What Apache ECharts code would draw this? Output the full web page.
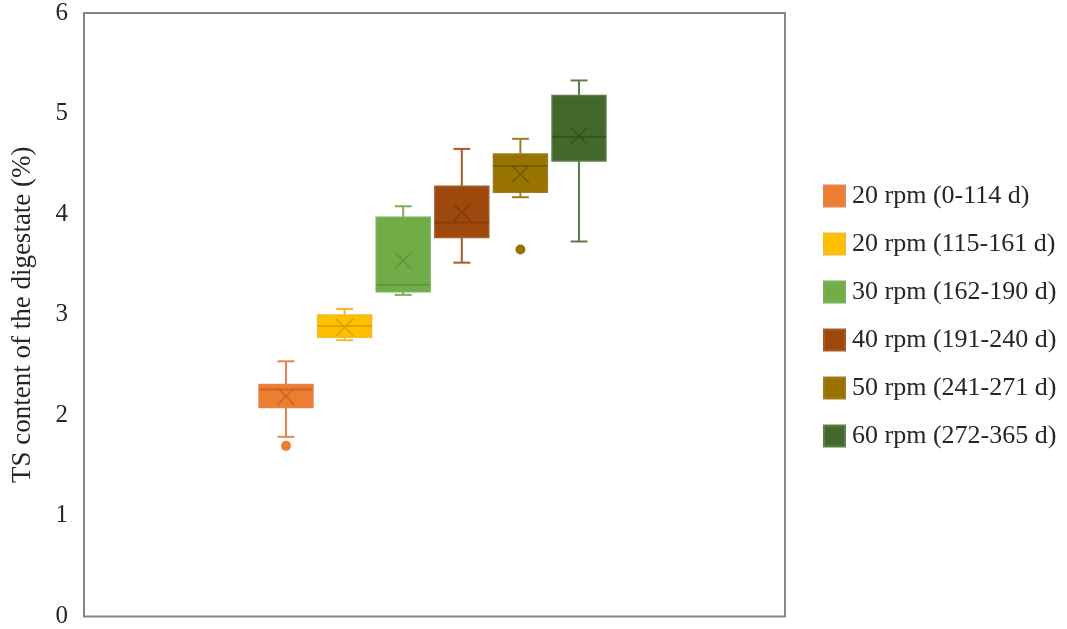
<!DOCTYPE html>
<html>
<head>
<meta charset="utf-8">
<script src="https://cdn.jsdelivr.net/npm/echarts@6/dist/echarts.min.js"></script>
<style>
html,body{margin:0;padding:0;background:#fff;}
#chart{width:1067px;height:629px;}
</style>
</head>
<body>
<div id="chart"></div>
<script>
// ---- data ----
const categories = ['20 rpm (0-114 d)', '20 rpm (115-161 d)', '30 rpm (162-190 d)', '40 rpm (191-240 d)', '50 rpm (241-271 d)', '60 rpm (272-365 d)'];
const whiskerLow  = [1.79, 2.75, 3.20, 3.52, 4.17, 3.73];
const q1Values    = [2.08, 2.78, 3.23, 3.77, 4.22, 4.53];
const medianVals  = [2.26, 2.89, 3.30, 3.92, 4.48, 4.77];
const q3Values    = [2.31, 3.00, 3.97, 4.28, 4.60, 5.18];
const whiskerHigh = [2.54, 3.06, 4.08, 4.65, 4.75, 5.33];
const meanValues  = [2.19, 2.88, 3.54, 4.02, 4.40, 4.78];
const outlierPoints = [[0, 1.70], [4, 3.65]];
const yTicks = [0, 1, 2, 3, 4, 5, 6];

const fillColors   = ['#ED7D31', '#FFC000', '#70AD47', '#9E480E', '#997300', '#43682B'];
const lineColors   = ['#E7834A', '#F2BB2A', '#7CAF5C', '#A65A2A', '#9E7C1E', '#5E7D4A'];
const darkColors   = ['#C9662A', '#DDA300', '#5E9A3B', '#843C0C', '#7A5C00', '#34521F'];

const chart = echarts.init(document.getElementById('chart'));

const FONT = '"Liberation Serif", "Times New Roman", serif';

function makeRender(idx) {
  return function (params, api) {
    const x = api.value(0);
    const band = api.size([1, 0])[0];
    const bw = band * 0.92;
    const capW = 17;
    const pLow = api.coord([x, api.value(1)]);
    const pQ1 = api.coord([x, api.value(2)]);
    const pMed = api.coord([x, api.value(3)]);
    const pQ3 = api.coord([x, api.value(4)]);
    const pHigh = api.coord([x, api.value(5)]);
    const pMean = api.coord([x, api.value(6)]);
    const cx = pLow[0];
    const wl = lineColors[idx];
    const dk = darkColors[idx];
    const lw = 2;
    const xs = 8.5;
    const children = [
      {type: 'line', shape: {x1: cx, y1: pHigh[1], x2: cx, y2: pQ3[1]}, style: {stroke: wl, lineWidth: lw}},
      {type: 'line', shape: {x1: cx, y1: pQ1[1], x2: cx, y2: pLow[1]}, style: {stroke: wl, lineWidth: lw}},
      {type: 'line', shape: {x1: cx - capW / 2, y1: pHigh[1], x2: cx + capW / 2, y2: pHigh[1]}, style: {stroke: wl, lineWidth: lw}},
      {type: 'line', shape: {x1: cx - capW / 2, y1: pLow[1], x2: cx + capW / 2, y2: pLow[1]}, style: {stroke: wl, lineWidth: lw}},
      {type: 'rect', shape: {x: cx - bw / 2, y: pQ3[1], width: bw, height: pQ1[1] - pQ3[1]}, style: {fill: fillColors[idx], stroke: wl, lineWidth: 1.5}},
      {type: 'line', shape: {x1: cx - bw / 2, y1: pMed[1], x2: cx + bw / 2, y2: pMed[1]}, style: {stroke: dk, lineWidth: 2}},
      {type: 'line', shape: {x1: cx - xs, y1: pMean[1] - xs, x2: cx + xs, y2: pMean[1] + xs}, style: {stroke: dk, lineWidth: 1.6}},
      {type: 'line', shape: {x1: cx - xs, y1: pMean[1] + xs, x2: cx + xs, y2: pMean[1] - xs}, style: {stroke: dk, lineWidth: 1.6}}
    ];
    return {type: 'group', children: children};
  };
}

const series = categories.map(function (name, i) {
  return {
    name: name,
    type: 'custom',
    xAxisIndex: 1,
    yAxisIndex: 1,
    itemStyle: {color: fillColors[i], borderColor: lineColors[i], borderWidth: 1},
    renderItem: makeRender(i),
    encode: {x: 0, y: [1, 2, 3, 4, 5, 6]},
    data: [[i, whiskerLow[i], q1Values[i], medianVals[i], q3Values[i], whiskerHigh[i], meanValues[i]]],
    z: 3
  };
});

series.push({
  type: 'scatter',
  xAxisIndex: 1,
  yAxisIndex: 1,
  symbol: 'circle',
  symbolSize: 10,
  z: 3,
  data: outlierPoints.map(function (p) {
    return {value: p, itemStyle: {color: fillColors[p[0]], opacity: 1}};
  })
});

const option = {
  backgroundColor: '#ffffff',
  animation: false,
  grid: [
    {left: 84, right: 282, top: 13, bottom: 12, show: true, borderColor: '#858585', borderWidth: 2, backgroundColor: 'transparent'},
    {left: 256.7, width: 351.6, top: 13, bottom: 12}
  ],
  legend: {
    orient: 'vertical',
    left: 818,
    top: 178,
    itemWidth: 21,
    itemHeight: 21,
    itemGap: 22,
    icon: 'rect',
    data: categories,
    textStyle: {fontFamily: FONT, fontSize: 26, color: '#262626', lineHeight: 26, padding: [0, 0, 0, 2]}
  },
  xAxis: [
    {gridIndex: 0, type: 'category', data: [''], axisLine: {show: false}, axisTick: {show: false}, axisLabel: {show: false}},
    {gridIndex: 1, type: 'category', data: categories, axisLine: {show: false}, axisTick: {show: false}, axisLabel: {show: false}}
  ],
  yAxis: [
    {
      gridIndex: 0, type: 'value', min: yTicks[0], max: yTicks[yTicks.length - 1], interval: 1,
      name: 'TS content of the digestate (%)',
      nameLocation: 'middle', nameGap: 48,
      nameTextStyle: {fontFamily: FONT, fontSize: 27, color: '#262626'},
      axisLine: {show: false}, axisTick: {show: false}, splitLine: {show: false},
      axisLabel: {fontFamily: FONT, fontSize: 25, color: '#262626', margin: 16, verticalAlign: 'middle', padding: [10, 0, 0, 0]}
    },
    {
      gridIndex: 1, type: 'value', min: yTicks[0], max: yTicks[yTicks.length - 1], interval: 1,
      show: false, splitLine: {show: false}
    }
  ],
  series: series
};

chart.setOption(option);
</script>
</body>
</html>
